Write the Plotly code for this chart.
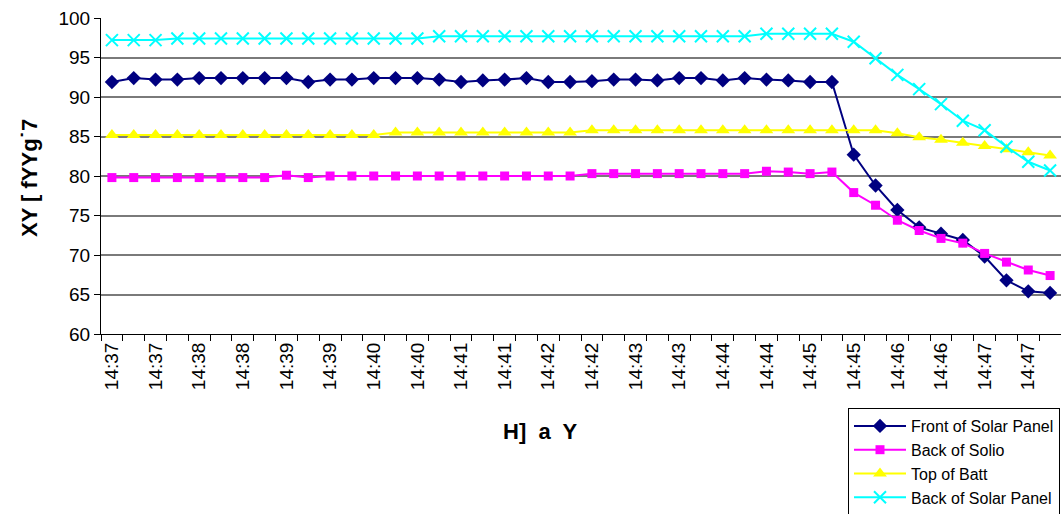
import plotly.graph_objects as go

# Sample index (one reading every 15 s) and the minute labels shown on every other sample
samples = list(range(44))
tick_labels = ["14:37", "14:37", "14:38", "14:38", "14:39", "14:39", "14:40", "14:40",
               "14:41", "14:41", "14:42", "14:42", "14:43", "14:43", "14:44", "14:44",
               "14:45", "14:45", "14:46", "14:46", "14:47", "14:47"]

front_of_solar_panel = [91.9, 92.4, 92.2, 92.2, 92.4, 92.4, 92.4, 92.4, 92.4, 91.9, 92.2,
                        92.2, 92.4, 92.4, 92.4, 92.2, 91.9, 92.1, 92.2, 92.4, 91.9, 91.9,
                        92.0, 92.2, 92.2, 92.1, 92.4, 92.4, 92.1, 92.4, 92.2, 92.1, 91.9,
                        91.9, 82.7, 78.8, 75.7, 73.5, 72.7, 71.9, 69.8, 66.8, 65.4, 65.2]
back_of_solio = [79.8, 79.8, 79.8, 79.8, 79.8, 79.8, 79.8, 79.8, 80.1, 79.8, 80.0,
                 80.0, 80.0, 80.0, 80.0, 80.0, 80.0, 80.0, 80.0, 80.0, 80.0, 80.0,
                 80.3, 80.3, 80.3, 80.3, 80.3, 80.3, 80.3, 80.3, 80.6, 80.5, 80.3,
                 80.5, 77.9, 76.3, 74.4, 73.1, 72.1, 71.5, 70.2, 69.1, 68.1, 67.4]
top_of_batt = [85.2, 85.2, 85.2, 85.2, 85.2, 85.2, 85.2, 85.2, 85.2, 85.2, 85.2,
               85.2, 85.2, 85.5, 85.5, 85.5, 85.5, 85.5, 85.5, 85.5, 85.5, 85.5,
               85.8, 85.8, 85.8, 85.8, 85.8, 85.8, 85.8, 85.8, 85.8, 85.8, 85.8,
               85.8, 85.8, 85.8, 85.4, 84.9, 84.6, 84.2, 83.8, 83.4, 83.0, 82.6]
back_of_solar_panel = [97.2, 97.2, 97.2, 97.4, 97.4, 97.4, 97.4, 97.4, 97.4, 97.4, 97.4,
                       97.4, 97.4, 97.4, 97.4, 97.7, 97.7, 97.7, 97.7, 97.7, 97.7, 97.7,
                       97.7, 97.7, 97.7, 97.7, 97.7, 97.7, 97.7, 97.7, 98.0, 98.0, 98.0,
                       98.0, 97.0, 94.9, 92.8, 91.0, 89.1, 87.0, 85.8, 83.7, 81.8, 80.7]

y_ticks = [60, 65, 70, 75, 80, 85, 90, 95, 100]

FONT = "Arial, Liberation Sans, sans-serif"

fig = go.Figure()
fig.add_trace(go.Scatter(
    x=samples, y=front_of_solar_panel, name="Front of Solar Panel", mode="lines+markers",
    line=dict(color="#000080", width=2),
    marker=dict(symbol="diamond", size=11, color="#000080")))
fig.add_trace(go.Scatter(
    x=samples, y=back_of_solio, name="Back of Solio", mode="lines+markers",
    line=dict(color="#FF00FF", width=2),
    marker=dict(symbol="square", size=9, color="#FF00FF")))
fig.add_trace(go.Scatter(
    x=samples, y=top_of_batt, name="Top of Batt", mode="lines+markers",
    line=dict(color="#FFFF00", width=2),
    marker=dict(symbol="triangle-up", size=12, color="#FFFF00")))
fig.add_trace(go.Scatter(
    x=samples, y=back_of_solar_panel, name="Back of Solar Panel", mode="lines+markers",
    line=dict(color="#00FFFF", width=2),
    marker=dict(symbol="x-thin", size=12, color="#00FFFF",
                line=dict(color="#00FFFF", width=2))))

fig.update_layout(
    width=1061, height=514,
    margin=dict(l=101, r=0, t=18, b=180, autoexpand=False),
    paper_bgcolor="white", plot_bgcolor="white",
    font=dict(family=FONT, color="black"),
    showlegend=True,
    legend=dict(
        x=(848 - 101) / 960, y=(334 - 408) / 316, xanchor="left", yanchor="top",
        bordercolor="black", borderwidth=1, bgcolor="white",
        font=dict(family=FONT, size=16, color="black"),
        tracegroupgap=0, itemwidth=52,
    ),
    xaxis=dict(
        range=[-0.5, 43.5], showgrid=False, zeroline=False,
        showline=True, linecolor="black", linewidth=1,
        tickmode="array", tickvals=samples[::2], ticktext=tick_labels,
        ticks="", tickangle=-90, tickfont=dict(family=FONT, size=19, color="black"),
        minor=dict(tickmode="linear", tick0=-0.5, dtick=1, ticks="outside",
                   ticklen=6, tickcolor="black", tickwidth=1, showgrid=False),
    ),
    yaxis=dict(
        range=[60, 100], tickmode="array", tickvals=y_ticks,
        showgrid=True, gridcolor="#7a7a7a", gridwidth=1.5, zeroline=False,
        showline=True, linecolor="black", linewidth=1,
        ticks="outside", ticklen=6, tickcolor="black",
        tickfont=dict(family=FONT, size=19, color="black"),
    ),
    annotations=[
        dict(text="<b>XY [ fYYg˙7</b>", xref="paper", yref="paper",
             x=(29 - 101) / 960, y=(334 - 178) / 316, xanchor="center", yanchor="middle",
             textangle=-90, showarrow=False, font=dict(family=FONT, size=22, color="black")),
        dict(text="<b>H]  a  Y</b>", xref="paper", yref="paper",
             x=(540 - 101) / 960, y=(334 - 432) / 316, xanchor="center", yanchor="middle",
             showarrow=False, font=dict(family=FONT, size=22, color="black")),
    ],
)

fig.write_html("out.html")
